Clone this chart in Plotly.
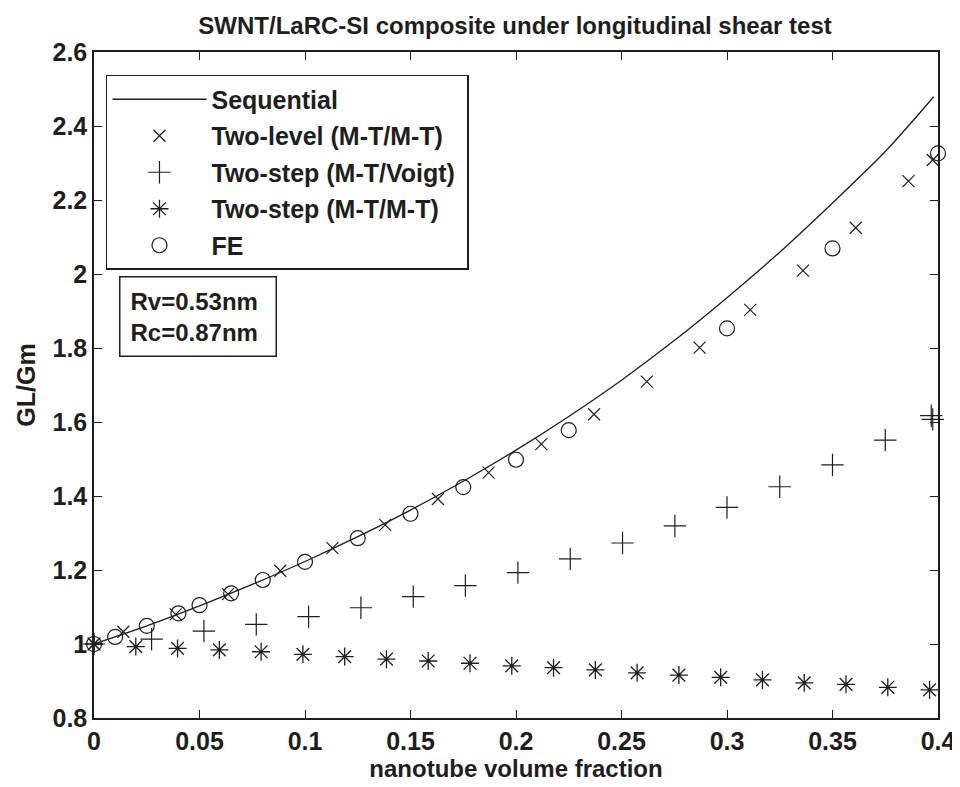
import plotly.graph_objects as go

# Sequential model (solid line)
seq_x = [0.0, 0.025, 0.05, 0.075, 0.1, 0.125, 0.15, 0.175, 0.2, 0.225, 0.25, 0.275, 0.3, 0.325, 0.35, 0.375, 0.398]
seq_y = [1.0, 1.049, 1.103, 1.161, 1.223, 1.290, 1.362, 1.440, 1.524, 1.615, 1.713, 1.820, 1.936, 2.059, 2.192, 2.331, 2.479]

# Two-level (M-T/M-T)
tl_x = [0.0, 0.0139, 0.0387, 0.0635, 0.0883, 0.113, 0.138, 0.163, 0.187, 0.212, 0.237, 0.262, 0.287, 0.311, 0.336, 0.361, 0.386, 0.3975]
tl_y = [1.0, 1.033, 1.080, 1.135, 1.198, 1.259, 1.322, 1.392, 1.463, 1.540, 1.621, 1.709, 1.801, 1.903, 2.009, 2.125, 2.251, 2.308]

# Two-step (M-T/Voigt)
tv_x = [0.0, 0.0273, 0.0521, 0.0769, 0.1017, 0.1265, 0.1513, 0.176, 0.2009, 0.2257, 0.2505, 0.2753, 0.3, 0.325, 0.35, 0.375, 0.3968, 0.3975]
tv_y = [1.0, 1.013, 1.035, 1.053, 1.074, 1.098, 1.128, 1.158, 1.193, 1.230, 1.273, 1.319, 1.369, 1.425, 1.484, 1.551, 1.617, 1.607]

# Two-step (M-T/M-T)
tm_x = [0.0, 0.0198, 0.0396, 0.0594, 0.0792, 0.099, 0.1188, 0.1386, 0.1584, 0.1782, 0.198, 0.2178, 0.2376, 0.2574, 0.2772, 0.297, 0.3168, 0.3366, 0.3564, 0.3762, 0.396]
tm_y = [1.0, 0.993, 0.988, 0.984, 0.979, 0.972, 0.966, 0.959, 0.954, 0.948, 0.941, 0.936, 0.930, 0.922, 0.916, 0.910, 0.903, 0.895, 0.891, 0.883, 0.876]

# FE results
fe_x = [0.0, 0.01, 0.025, 0.04, 0.05, 0.065, 0.08, 0.1, 0.125, 0.15, 0.175, 0.2, 0.225, 0.3, 0.35, 0.4]
fe_y = [1.0, 1.019, 1.049, 1.083, 1.105, 1.137, 1.173, 1.222, 1.286, 1.352, 1.424, 1.498, 1.578, 1.853, 2.069, 2.326]

x_ticks = [0, 0.05, 0.1, 0.15, 0.2, 0.25, 0.3, 0.35, 0.4]
x_tick_text = ["0", "0.05", "0.1", "0.15", "0.2", "0.25", "0.3", "0.35", "0.4"]
y_ticks = [0.8, 1.0, 1.2, 1.4, 1.6, 1.8, 2.0, 2.2, 2.4, 2.6]
y_tick_text = ["0.8", "1", "1.2", "1.4", "1.6", "1.8", "2", "2.2", "2.4", "2.6"]

INK = "#1e1e1e"
FONT = "Liberation Sans"

fig = go.Figure()
fig.add_trace(go.Scatter(x=seq_x, y=seq_y, mode="lines", name="Sequential",
                         line=dict(color=INK, width=1.3, shape="spline", smoothing=0.8),
                         legendgroup="a"))
fig.add_trace(go.Scatter(x=tl_x, y=tl_y, mode="markers", name="Two-level (M-T/M-T)",
                         marker=dict(symbol="x-thin-open", size=12, color=INK,
                                     line=dict(width=1.2, color=INK)),
                         cliponaxis=False, legendgroup="b"))
fig.add_trace(go.Scatter(x=tv_x, y=tv_y, mode="markers", name="Two-step (M-T/Voigt)\u00a0",
                         marker=dict(symbol="cross-thin-open", size=16, color=INK,
                                     line=dict(width=1.2, color=INK)),
                         cliponaxis=False, legendgroup="c"))
fig.add_trace(go.Scatter(x=tm_x, y=tm_y, mode="markers", name="Two-step (M-T/M-T)",
                         marker=dict(symbol="asterisk-open", size=15, color=INK,
                                     line=dict(width=1.3, color=INK)),
                         cliponaxis=False, legendgroup="d"))
fig.add_trace(go.Scatter(x=fe_x, y=fe_y, mode="markers", name="FE",
                         marker=dict(symbol="circle-open", size=15, color=INK,
                                     line=dict(width=1.2, color=INK)),
                         cliponaxis=False, legendgroup="e"))

axis_common = dict(showline=True, linecolor=INK, linewidth=1.5, mirror="ticks",
                   ticks="inside", ticklen=8, tickwidth=1.2, tickcolor=INK,
                   showgrid=False, zeroline=False, automargin=False,
                   tickfont=dict(family=FONT, size=25, color=INK, weight="bold"))

# page body has an 8px margin, so the figure is 8px smaller in each direction
fig.update_layout(
    width=952, height=779,
    margin=dict(l=86, r=22, t=44, b=69),
    paper_bgcolor="white", plot_bgcolor="white",
    title=dict(text="SWNT/LaRC-SI composite under longitudinal shear test",
               x=0.5326, xanchor="center", y=0.977, yanchor="middle",
               font=dict(family=FONT, size=24, color=INK, weight="bold")),
    xaxis=dict(range=[0, 0.4], tickvals=x_ticks, ticktext=x_tick_text,
               title=dict(text="nanotube volume fraction", standoff=5,
                          font=dict(family=FONT, size=24, color=INK, weight="bold")),
               **axis_common),
    yaxis=dict(range=[0.8, 2.6], tickvals=y_ticks, ticktext=y_tick_text,
               title=dict(text="GL/Gm", standoff=10,
                          font=dict(family=FONT, size=25, color=INK, weight="bold")),
               **axis_common),
    legend=dict(x=0.0142, y=0.9655, xanchor="left", yanchor="top",
                bgcolor="white", bordercolor=INK, borderwidth=1.5,
                font=dict(family=FONT, size=25, color=INK, weight="bold"),
                itemwidth=94, tracegroupgap=1, itemsizing="trace"),
    showlegend=True,
)

fig.add_annotation(xref="paper", yref="paper", x=0.0296, y=0.6637,
                   xanchor="left", yanchor="top", align="left", showarrow=False,
                   text="Rv=0.53nm<br>Rc=0.87nm", width=135,
                   font=dict(family=FONT, size=24, color=INK, weight="bold"),
                   bordercolor=INK, borderwidth=1.5, borderpad=10, bgcolor="white")

fig.write_html("out.html")
